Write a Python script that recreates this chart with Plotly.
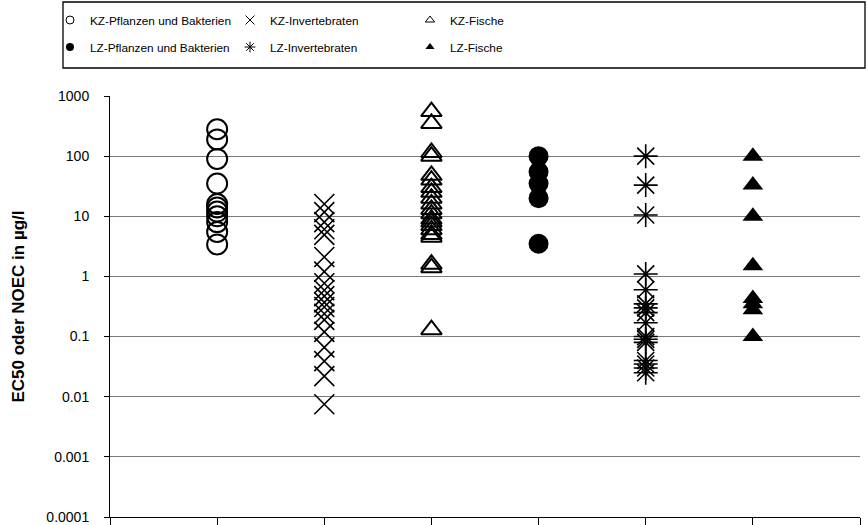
import plotly.graph_objects as go

# Category positions (1..6) on a category-like numeric axis
groups = ["KZ-Pflanzen und Bakterien", "KZ-Invertebraten", "KZ-Fische",
          "LZ-Pflanzen und Bakterien", "LZ-Invertebraten", "LZ-Fische"]

kz_pflanzen = [280, 190, 90, 35, 16, 14, 12, 10, 8, 5.5, 3.4]
kz_invert = [16, 11.7, 8, 6.1, 4.9, 2.1, 1.2, 0.77, 0.59, 0.47, 0.37, 0.31,
             0.24, 0.19, 0.12, 0.066, 0.039, 0.022, 0.0075]
kz_fische = [550, 350, 115, 100, 48, 40, 30, 25, 20, 16, 13, 11, 9, 8, 7, 6,
             5, 4.5, 1.6, 1.4, 0.13]
lz_pflanzen = [100, 55, 35, 20, 3.5]
lz_invert = [100, 33, 10.5, 1.1, 0.6, 0.35, 0.3, 0.25, 0.17, 0.1, 0.09, 0.08,
             0.04, 0.035, 0.03, 0.025]
lz_fische = [100, 33, 10, 1.5, 0.43, 0.35, 0.28, 0.1]

series = [kz_pflanzen, kz_invert, kz_fische, lz_pflanzen, lz_invert, lz_fische]

y_tickvals = [0.0001, 0.001, 0.01, 0.1, 1, 10, 100, 1000]
y_ticktext = ["0.0001", "0.001", "0.01", "0.1", "1", "10", "100", "1000"]

styles = [
    dict(symbol="circle-open", size=20, color="black", line=dict(width=2, color="black")),
    dict(symbol="x-thin-open", size=20, color="black", line=dict(width=1.6, color="black")),
    dict(symbol="triangle-up-open", size=18, color="black", line=dict(width=2, color="black")),
    dict(symbol="circle", size=20, color="black", line=dict(width=0)),
    dict(symbol="asterisk-open", size=20, color="black", line=dict(width=1.6, color="black")),
    dict(symbol="triangle-up", size=18, color="black", line=dict(width=0)),
]
legend_styles = [
    dict(symbol="circle-open", size=8, color="black", line=dict(width=1, color="black")),
    dict(symbol="x-thin-open", size=9, color="black", line=dict(width=1, color="black")),
    dict(symbol="triangle-up-open", size=8, color="black", line=dict(width=1, color="black")),
    dict(symbol="circle", size=8, color="black", line=dict(width=0)),
    dict(symbol="asterisk-open", size=9, color="black", line=dict(width=1, color="black")),
    dict(symbol="triangle-up", size=8, color="black", line=dict(width=0)),
]

fig = go.Figure()
for i, (name, vals) in enumerate(zip(groups, series)):
    fig.add_trace(go.Scatter(
        x=[i + 1] * len(vals), y=vals, mode="markers", name=name,
        marker=styles[i], showlegend=False,
    ))
for i, name in enumerate(groups):
    fig.add_trace(go.Scatter(
        x=[None], y=[None], mode="markers", name=name,
        marker=legend_styles[i], showlegend=True,
        legend="legend" if i < 3 else "legend2",
    ))

font = dict(family="Liberation Sans, Arial, sans-serif", color="black")
legend_common = dict(
    orientation="h", xanchor="left", yanchor="middle",
    xref="container", yref="container",
    entrywidth=135, entrywidthmode="pixels",
    font=dict(size=11.8, **font), bgcolor="rgba(0,0,0,0)",
    borderwidth=0, itemwidth=30,
)

fig.update_layout(
    width=868, height=525,
    margin=dict(l=110, r=8, t=96, b=8, autoexpand=False),
    paper_bgcolor="white", plot_bgcolor="white",
    font=font,
    legend=dict(x=50 / 868, y=1 - 20 / 525, **legend_common),
    legend2=dict(x=50 / 868, y=1 - 47 / 525, **legend_common),
    xaxis=dict(
        range=[0, 7], tickvals=list(range(8)), showticklabels=False,
        ticks="outside", ticklen=8, tickcolor="black", tickwidth=1,
        showgrid=False, zeroline=False, showline=True, linecolor="black",
        linewidth=1,
    ),
    yaxis=dict(
        type="log", range=[-4, 3], tickvals=y_tickvals, ticktext=y_ticktext,
        ticks="outside", ticklen=5, tickcolor="black", tickwidth=1,
        ticklabelstandoff=12,
        showgrid=True, gridcolor="#7a7a7a", gridwidth=1,
        showline=True, linecolor="black", linewidth=1, zeroline=False,
        tickfont=dict(size=14, **font),
        title=dict(text="<b>EC50 oder NOEC in µg/l</b>", font=dict(size=17, **font), standoff=17),
    ),
    shapes=[dict(
        type="rect", xref="paper", yref="paper",
        x0=(63 - 110) / 750, x1=(865 - 110) / 750,
        y0=1 + (96 - 68) / 421, y1=1 + (96 - 2) / 421,
        line=dict(color="black", width=1.3), fillcolor="rgba(0,0,0,0)",
    )],
)

fig.write_html("out.html", config={"displayModeBar": False},
               post_script="document.body.style.margin='0';")
